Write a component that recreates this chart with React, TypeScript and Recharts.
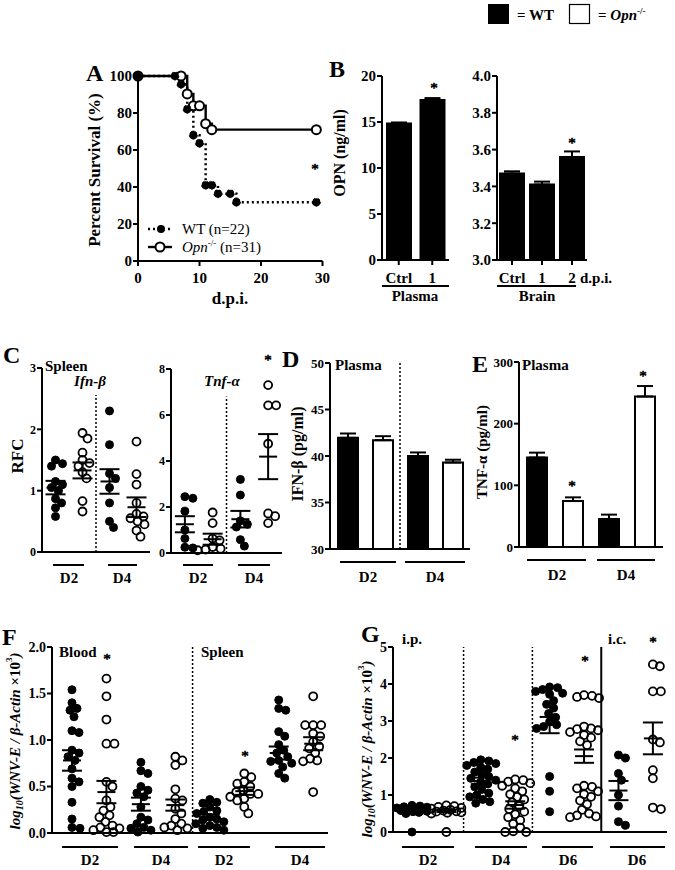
import React from "react"
import {
  LineChart,
  Line,
  BarChart,
  Bar,
  Cell,
  ErrorBar,
  ScatterChart,
  Scatter,
  XAxis,
  YAxis,
  ReferenceLine,
} from "recharts"

const FONT = "'Liberation Serif', 'Times New Roman', serif"
const STAR = "*"

// A: Kaplan-Meier survival (d.p.i. vs %)
const wtDays = [0, 6, 7, 8, 9, 10, 11, 12, 13, 15, 16, 29]
const wtSurv = [100, 100, 95.5, 82, 68, 63.6, 41, 41, 36.4, 36.4, 31.8, 31.8]
const opnDays = [0, 7, 8, 9, 10, 11, 12, 29]
const opnSurv = [100, 100, 90.3, 83.9, 83.9, 74.2, 71, 71]

// B: OPN (ng/ml)
const plasmaCats = ["Ctrl", "1"]
const plasmaOpn = [14.85, 17.4]
const plasmaErr = [0.1, 0.2]
const brainCats = ["Ctrl", "1", "2"]
const brainOpn = [3.47, 3.41, 3.56]
const brainErr = [0.012, 0.016, 0.03]

// C: spleen RFC, groups = D2 WT, D2 Opn, D4 WT, D4 Opn
const ifnSpleen = [
  [1.5, 1.44, 1.4, 1.15, 1.1, 1.05, 1.0, 0.87, 0.8, 0.72, 0.58],
  [1.94, 1.85, 1.62, 1.5, 1.45, 1.4, 1.3, 1.2, 0.83, 0.66],
  [2.3, 1.75, 1.28, 1.2, 1.05, 0.8, 0.5, 0.4],
  [1.8, 1.27, 1.1, 0.8, 0.62, 0.58, 0.55, 0.5, 0.45, 0.35, 0.25],
]
const ifnMean = [1.05, 1.33, 1.15, 0.73]
const ifnSem = [0.11, 0.13, 0.2, 0.16]
const tnfSpleen = [
  [2.45, 2.38, 1.82, 1.0, 0.63, 0.25, 0.22],
  [1.76, 1.3, 0.63, 0.55, 0.26, 0.19, 0.15, 0.12],
  [3.2, 2.52, 1.4, 1.25, 1.13, 0.58, 0.3],
  [7.3, 6.42, 6.42, 4.75, 1.72, 1.6, 1.3],
]
const tnfMean = [1.25, 0.6, 1.47, 4.19]
const tnfSem = [0.35, 0.24, 0.36, 0.98]

// D / E: plasma cytokines
const cytoCats = ["D2 WT", "D2 Opn", "D4 WT", "D4 Opn"]
const ifnPlasma = [41.95, 41.7, 40.0, 39.3]
const ifnPlasmaErr = [0.47, 0.43, 0.38, 0.3]
const tnfPlasma = [145, 74.5, 45.5, 244]
const tnfPlasmaErr = [8, 6, 7, 17]

// F: blood D2, D4, spleen D2, D4 (WT / Opn each)
const wnvF = [
  [1.54, 1.4, 1.34, 1.32, 1.25, 1.1, 1.08, 0.89, 0.86, 0.82, 0.78, 0.69, 0.59, 0.55, 0.5, 0.33, 0.15, 0.06, 0.05],
  [1.66, 1.47, 1.22, 0.96, 0.96, 0.55, 0.5, 0.35, 0.28, 0.24, 0.19, 0.17, 0.12, 0.08, 0.06, 0.05, 0.03, 0.01, 0.01],
  [0.76, 0.67, 0.64, 0.5, 0.46, 0.43, 0.39, 0.28, 0.17, 0.14, 0.1, 0.06, 0.05, 0.03, 0.01],
  [0.82, 0.78, 0.73, 0.47, 0.37, 0.35, 0.26, 0.21, 0.15, 0.1, 0.08, 0.06, 0.05, 0.03],
  [0.36, 0.33, 0.32, 0.28, 0.24, 0.23, 0.21, 0.17, 0.15, 0.14, 0.12, 0.1, 0.08, 0.06, 0.05, 0.03],
  [0.64, 0.6, 0.55, 0.53, 0.5, 0.46, 0.44, 0.42, 0.42, 0.39, 0.37, 0.35, 0.28, 0.21],
  [1.43, 1.34, 1.32, 1.09, 1.04, 0.95, 0.89, 0.86, 0.82, 0.78, 0.77, 0.75, 0.71, 0.64, 0.59],
  [1.47, 1.16, 1.16, 1.16, 1.07, 1.04, 0.98, 0.93, 0.91, 0.86, 0.8, 0.78, 0.77, 0.44],
]
const fMean = [0.78, 0.44, 0.31, 0.3, 0.17, 0.45, 0.86, 0.96]
const fSem = [0.11, 0.12, 0.07, 0.06, 0.03, 0.04, 0.07, 0.07]

// G: i.p. D2, D4, D6 and i.c. D6 (WT / Opn each)
const wnvG = [
  [0.72, 0.7, 0.68, 0.67, 0.65, 0.63, 0.62, 0.6, 0.58, 0.56, 0.55, 0.53, 0.5, 0.0],
  [0.72, 0.7, 0.68, 0.65, 0.63, 0.6, 0.58, 0.56, 0.55, 0.53, 0.52, 0.5, 0.0],
  [1.95, 1.92, 1.88, 1.85, 1.8, 1.75, 1.7, 1.62, 1.55, 1.5, 1.45, 1.4, 1.35, 1.3, 1.22, 1.15, 1.05, 1.0, 0.95, 0.88, 0.82, 0.78],
  [1.42, 1.4, 1.36, 1.32, 1.25, 1.18, 1.1, 1.02, 0.95, 0.88, 0.8, 0.7, 0.62, 0.55, 0.48, 0.4, 0.32, 0.22, 0.12, 0.02, 0.0, 0.0],
  [3.92, 3.9, 3.85, 3.8, 3.75, 3.72, 3.55, 3.45, 3.35, 3.2, 3.1, 2.98, 2.9, 2.85, 2.8, 1.5, 1.1, 0.55],
  [3.7, 3.68, 3.65, 3.62, 2.85, 2.8, 2.78, 2.75, 2.7, 2.62, 2.55, 2.45, 2.35, 1.25, 1.22, 1.18, 1.1, 1.02, 0.95, 0.85, 0.75, 0.6, 0.5, 0.45, 0.42, 0.4],
  [2.08, 2.0, 1.58, 1.4, 1.0, 0.7, 0.28, 0.18],
  [4.53, 4.48, 3.8, 3.8, 2.5, 2.42, 1.67, 1.45, 0.66, 0.62],
]
const gMean = [0.6, 0.57, 1.38, 0.73, 2.89, 2.05, 1.12, 2.53]
const gSem = [0.03, 0.03, 0.09, 0.1, 0.22, 0.18, 0.26, 0.43]

const axisLine = { stroke: "#000", strokeWidth: 2 }

function geo(L: number, T: number, R: number, B: number, yw: number, xh: number, pad = 10) {
  return {
    style: { position: "absolute" as const, left: L - yw, top: T - pad },
    width: R - L + yw + pad,
    height: B - T + pad + xh,
    margin: { top: pad, right: pad, left: 0, bottom: 0 },
  }
}

// simple beeswarm: horizontal pixel offsets so dots don't pile up
function swarm(vals: number[], pyu: number, pxu: number, r: number) {
  const placed: { dx: number; y: number }[] = []
  const out: number[] = vals.map(() => 0)
  const order = vals.map((_, i) => i).sort((a, b) => vals[b] - vals[a])
  const d = r * 1.8
  for (const i of order) {
    const y = vals[i] * pyu
    let best = 0
    let bestScore = -1
    for (let k = 0; k <= 30; k++) {
      const c = k === 0 ? 0 : (k % 2 ? 1 : -1) * Math.ceil(k / 2)
      const m = placed.reduce((acc, p) => Math.min(acc, Math.hypot(p.dx - c, p.y - y)), Infinity)
      if (m >= d) {
        best = c
        break
      }
      if (m > bestScore) {
        bestScore = m
        best = c
      }
    }
    placed.push({ dx: best, y })
    out[i] = best / pxu
  }
  return out
}

const dotShape = (open: boolean) => (p: any) => (
  <circle
    cx={p.cx}
    cy={p.cy}
    r={4}
    fill={open ? "none" : "#000"}
    stroke="#000"
    strokeWidth={open ? 1.8 : 1}
  />
)

const meanShape = (p: any) => (
  <line x1={p.cx - 9} x2={p.cx + 9} y1={p.cy} y2={p.cy} stroke="#000" strokeWidth={2} />
)

function ScatterPanel(props: any) {
  const { L, T, R, B, yw, yDom, yTicks, fmt, fs, groups, mean, sem, xDom, seps } = props
  const g = geo(L, T, R, B, yw, 10)
  const pyu = (B - T) / (yDom[1] - yDom[0])
  const pxu = (R - L) / (xDom[1] - xDom[0])
  const pts = groups.map((vals: number[], gi: number) => {
    const off = swarm(vals, pyu, pxu, 4)
    return vals.map((v, j) => ({ x: gi + off[j], y: v }))
  })
  const means = mean.map((m: number, gi: number) => ({ x: gi, y: m, e: sem[gi] }))
  return (
    <div style={g.style}>
      <ScatterChart width={g.width} height={g.height} margin={g.margin}>
        <XAxis
          type="number"
          dataKey="x"
          domain={xDom}
          ticks={groups.map((_: any, i: number) => i)}
          interval={0}
          tick={false}
          axisLine={axisLine}
          tickLine={axisLine}
          tickSize={5}
          height={10}
        />
        <YAxis
          type="number"
          dataKey="y"
          domain={yDom}
          ticks={yTicks}
          interval={0}
          tickFormatter={fmt}
          width={yw}
          axisLine={axisLine}
          tickLine={axisLine}
          tickSize={5}
          tickMargin={1}
          tick={{ fill: "#000", fontSize: fs, fontWeight: "bold", fontFamily: FONT }}
        />
        {seps.map((s: any, i: number) =>
          s.top !== undefined ? (
            <ReferenceLine
              key={i}
              segment={[
                { x: s.x, y: yDom[0] },
                { x: s.x, y: s.top },
              ]}
              stroke="#000"
              strokeWidth={1.5}
              strokeDasharray="2 2"
            />
          ) : (
            <ReferenceLine
              key={i}
              x={s.x}
              stroke="#000"
              strokeWidth={s.solid ? 2 : 1.5}
              strokeDasharray={s.solid ? undefined : "2 2"}
            />
          ),
        )}
        {pts.map((d: any[], gi: number) => (
          <Scatter key={gi} data={d} shape={dotShape(gi % 2 === 1)} isAnimationActive={false} />
        ))}
        <Scatter data={means} shape={meanShape} isAnimationActive={false}>
          <ErrorBar dataKey="e" direction="y" width={10} stroke="#000" strokeWidth={2} />
        </Scatter>
      </ScatterChart>
    </div>
  )
}

function BarPanel(props: any) {
  const { L, T, R, B, yw, xh, yDom, yTicks, fmt, fs, cats, vals, errs, barSize, labels, sep } = props
  const g = geo(L, T, R, B, yw, xh)
  const data = cats.map((k: string, i: number) => ({ k, v: vals[i], e: [0, errs[i]] }))
  return (
    <div style={g.style}>
      <BarChart data={data} width={g.width} height={g.height} margin={g.margin}>
        <XAxis
          dataKey="k"
          height={xh}
          interval={0}
          axisLine={axisLine}
          tickLine={axisLine}
          tickSize={5}
          tickMargin={7}
          tick={labels ? { fill: "#000", fontSize: 15, fontWeight: "bold", fontFamily: FONT } : false}
        />
        <YAxis
          type="number"
          domain={yDom}
          ticks={yTicks}
          interval={0}
          tickFormatter={fmt}
          width={yw}
          axisLine={axisLine}
          tickLine={axisLine}
          tickSize={5}
          tickMargin={1}
          tick={{ fill: "#000", fontSize: fs, fontWeight: "bold", fontFamily: FONT }}
        />
        {sep && (
          <ReferenceLine x={sep} position="end" stroke="#000" strokeWidth={1.5} strokeDasharray="2 2" />
        )}
        <Bar dataKey="v" barSize={barSize} stroke="#000" strokeWidth={2} isAnimationActive={false}>
          {data.map((_: any, i: number) => (
            <Cell key={i} fill={props.allBlack || i % 2 === 0 ? "#000" : "#fff"} />
          ))}
          <ErrorBar dataKey="e" direction="y" width={8} stroke="#000" strokeWidth={2} />
        </Bar>
      </BarChart>
    </div>
  )
}

function SurvivalPanel() {
  const g = geo(138, 76, 322.5, 261, 42, 30, 12)
  const wt = wtDays.map((x, i) => ({ x, y: wtSurv[i] }))
  const opn = opnDays.map((x, i) => ({ x, y: opnSurv[i] }))
  return (
    <div style={g.style}>
      <LineChart width={g.width} height={g.height} margin={g.margin}>
        <XAxis
          type="number"
          dataKey="x"
          domain={[0, 30]}
          ticks={[0, 10, 20, 30]}
          interval={0}
          height={30}
          axisLine={axisLine}
          tickLine={axisLine}
          tickSize={5}
          tickMargin={6}
          tick={{ fill: "#000", fontSize: 15, fontWeight: "bold", fontFamily: FONT }}
        />
        <YAxis
          type="number"
          domain={[0, 100]}
          ticks={[0, 20, 40, 60, 80, 100]}
          interval={0}
          width={42}
          axisLine={axisLine}
          tickLine={axisLine}
          tickSize={5}
          tickMargin={1}
          tick={{ fill: "#000", fontSize: 15, fontWeight: "bold", fontFamily: FONT }}
        />
        <Line
          data={opn}
          dataKey="y"
          type="stepAfter"
          stroke="#000"
          strokeWidth={2.4}
          dot={{ r: 4.5, fill: "#fff", stroke: "#000", strokeWidth: 2 }}
          isAnimationActive={false}
        />
        <Line
          data={wt}
          dataKey="y"
          type="stepAfter"
          stroke="#000"
          strokeWidth={2.5}
          strokeDasharray="2 3"
          dot={{ r: 4, fill: "#000", stroke: "#000", strokeWidth: 1 }}
          isAnimationActive={false}
        />
      </LineChart>
    </div>
  )
}

function T(props: any) {
  const { x, y, s = 15, w = "bold", a = "start", it = false, rot = false, sw, children } = props
  return (
    <text
      x={x}
      y={y}
      fontSize={s}
      fontWeight={w}
      fontStyle={it ? "italic" : "normal"}
      textAnchor={a}
      fontFamily={FONT}
      fill="#000"
      stroke={sw ? "#000" : undefined}
      strokeWidth={sw}
      dominantBaseline={rot ? "central" : undefined}
      transform={rot ? `rotate(-90 ${x} ${y})` : undefined}
    >
      {children}
    </text>
  )
}

// significance marker
function Star({ x, y }: any) {
  return (
    <T x={x} y={y} s={15} w="normal" a="middle" sw={0.6}>
      {STAR}
    </T>
  )
}

function U({ x1, x2, y }: any) {
  return <line x1={x1} x2={x2} y1={y} y2={y} stroke="#000" strokeWidth={2} />
}

function YLabelWnv({ x, y }: any) {
  return (
    <T x={x} y={y} s={15} rot a="middle" it>
      log<tspan fontSize={10} dy={4}>10</tspan>
      <tspan dy={-4}>(WNV-E / β-Actin </tspan>
      <tspan fontStyle="normal">×10</tspan>
      <tspan fontSize={9} dy={-6} fontStyle="normal">3</tspan>
      <tspan dy={6}>)</tspan>
    </T>
  )
}

function Overlay() {
  return (
    <svg width={675} height={870} style={{ position: "absolute", left: 0, top: 0, pointerEvents: "none" }}>
      {/* panel letters */}
      <T x={86} y={81} s={24}>A</T>
      <T x={329} y={77} s={24}>B</T>
      <T x={3} y={363} s={24}>C</T>
      <T x={282} y={367} s={24}>D</T>
      <T x={472} y={372} s={24}>E</T>
      <T x={2} y={645} s={24}>F</T>
      <T x={361} y={642} s={24}>G</T>

      {/* top legend */}
      <rect x={488} y={4} width={21} height={20} fill="#000" />
      <T x={517} y={20}>= WT</T>
      <rect x={569.5} y={4.5} width={20} height={19} fill="#fff" stroke="#000" strokeWidth={1.2} />
      <T x={598} y={20}>
        = <tspan fontStyle="italic">Opn</tspan>
        <tspan fontSize={9} dy={-6}>-/-</tspan>
      </T>

      {/* A */}
      <T x={94} y={170} s={17} rot a="middle">Percent Survival (%)</T>
      <T x={230} y={304} s={17} a="middle">d.p.i.</T>
      <line x1={148} x2={172} y1={229} y2={229} stroke="#000" strokeWidth={2.5} strokeDasharray="2 3" />
      <circle cx={161} cy={229} r={4} fill="#000" />
      <T x={182} y={234} w="normal">WT (n=22)</T>
      <line x1={148} x2={172} y1={247} y2={247} stroke="#000" strokeWidth={2.4} />
      <circle cx={160} cy={247} r={4.5} fill="#fff" stroke="#000" strokeWidth={2} />
      <T x={182} y={252} w="normal">
        <tspan fontStyle="italic">Opn</tspan>
        <tspan fontSize={9} dy={-6}>-/-</tspan>
        <tspan dy={6}> (n=31)</tspan>
      </T>
      <Star x={315} y={174} />

      {/* B */}
      <T x={339} y={153} s={16} rot a="middle">OPN (ng/ml)</T>
      <U x1={382} x2={449} y={286} />
      <T x={415} y={301} a="middle">Plasma</T>
      <U x1={497} x2={576} y={286} />
      <T x={537} y={301} a="middle">Brain</T>
      <T x={580} y={283}>d.p.i.</T>
      <Star x={434} y={93} />
      <Star x={572} y={148} />

      {/* C */}
      <T x={17} y={456} s={17} rot a="middle">RFC</T>
      <T x={45} y={371}>Spleen</T>
      <T x={90} y={386} it a="middle">Ifn-β</T>
      <T x={222} y={386} it a="middle">Tnf-α</T>
      <U x1={53} x2={84} y={565} />
      <U x1={108} x2={137} y={565} />
      <U x1={183} x2={213} y={565} />
      <U x1={238} x2={270} y={565} />
      <T x={69} y={583} a="middle">D2</T>
      <T x={122} y={583} a="middle">D4</T>
      <T x={198} y={583} a="middle">D2</T>
      <T x={254} y={583} a="middle">D4</T>
      <Star x={268} y={365} />

      {/* D */}
      <T x={297} y={454} s={16} rot a="middle">IFN-β (pg/ml)</T>
      <T x={335} y={370}>Plasma</T>
      <U x1={340} x2={396} y={562} />
      <U x1={405} x2={465} y={562} />
      <T x={368} y={582} a="middle">D2</T>
      <T x={435} y={582} a="middle">D4</T>

      {/* E */}
      <T x={482} y={452} s={15} rot a="middle">TNF-α (pg/ml)</T>
      <T x={522} y={370}>Plasma</T>
      <U x1={527} x2={586} y={560} />
      <U x1={597} x2={655} y={560} />
      <T x={557} y={580} a="middle">D2</T>
      <T x={626} y={580} a="middle">D4</T>
      <Star x={572} y={491} />
      <Star x={643} y={381} />

      {/* F */}
      <YLabelWnv x={15} y={741} />
      <T x={59} y={657}>Blood</T>
      <T x={201} y={657}>Spleen</T>
      <Star x={107} y={664} />
      <Star x={245} y={761} />
      <U x1={62} x2={118} y={847} />
      <U x1={134} x2={188} y={847} />
      <U x1={198} x2={250} y={847} />
      <U x1={275} x2={325} y={847} />
      <T x={90} y={865} a="middle">D2</T>
      <T x={161} y={865} a="middle">D4</T>
      <T x={224} y={865} a="middle">D2</T>
      <T x={300} y={865} a="middle">D4</T>

      {/* G */}
      <YLabelWnv x={367} y={749} />
      <T x={402} y={644}>i.p.</T>
      <T x={608} y={644}>i.c.</T>
      <Star x={653} y={647} />
      <Star x={585} y={666} />
      <Star x={515} y={745} />
      <U x1={402} x2={454} y={847} />
      <U x1={475} x2={527} y={847} />
      <U x1={542} x2={593} y={847} />
      <U x1={610} x2={665} y={847} />
      <T x={428} y={865} a="middle">D2</T>
      <T x={501} y={865} a="middle">D4</T>
      <T x={568} y={865} a="middle">D6</T>
      <T x={637} y={865} a="middle">D6</T>
    </svg>
  )
}

export default function App() {
  return (
    <div
      style={{
        position: "absolute",
        left: 0,
        top: 0,
        width: 675,
        height: 870,
        background: "#fff",
        overflow: "hidden",
        fontFamily: FONT,
      }}
    >
      <SurvivalPanel />
      <BarPanel
        L={382} T={76} R={449} B={260} yw={36} xh={30}
        yDom={[0, 20]} yTicks={[0, 5, 10, 15, 20]} fs={15}
        cats={plasmaCats} vals={plasmaOpn} errs={plasmaErr} barSize={24} labels allBlack
      />
      <BarPanel
        L={497} T={76} R={587} B={260} yw={36} xh={30}
        yDom={[3, 4]} yTicks={[3, 3.2, 3.4, 3.6, 3.8, 4]} fmt={(v: number) => v.toFixed(1)} fs={15}
        cats={brainCats} vals={brainOpn} errs={brainErr} barSize={24} labels allBlack
      />
      <ScatterPanel
        L={42} T={368} R={150} B={552} yw={24}
        yDom={[0, 3]} yTicks={[0, 1, 2, 3]} fs={12} xDom={[-0.5, 3.5]}
        groups={ifnSpleen} mean={ifnMean} sem={ifnSem} seps={[{ x: 1.5, top: 2.56 }]}
      />
      <ScatterPanel
        L={171} T={369} R={282} B={553} yw={22}
        yDom={[0, 8]} yTicks={[0, 2, 4, 6, 8]} fs={12} xDom={[-0.5, 3.5]}
        groups={tnfSpleen} mean={tnfMean} sem={tnfSem} seps={[{ x: 1.5, top: 6.8 }]}
      />
      <BarPanel
        L={330} T={363} R={470} B={549} yw={28} xh={10}
        yDom={[30, 50]} yTicks={[30, 35, 40, 45, 50]} fs={13}
        cats={cytoCats} vals={ifnPlasma} errs={ifnPlasmaErr} barSize={20} sep="D2 Opn"
      />
      <BarPanel
        L={519} T={362} R={663} B={547} yw={34} xh={10}
        yDom={[0, 300]} yTicks={[0, 100, 200, 300]} fs={13}
        cats={cytoCats} vals={tnfPlasma} errs={tnfPlasmaErr} barSize={20}
      />
      <ScatterPanel
        L={52} T={647} R={328} B={833} yw={34}
        yDom={[0, 2]} yTicks={[0, 0.5, 1, 1.5, 2]} fmt={(v: number) => v.toFixed(1)} fs={14}
        xDom={[-0.58, 7.43]} groups={wnvF} mean={fMean} sem={fSem} seps={[{ x: 3.5 }]}
      />
      <ScatterPanel
        L={393} T={647} R={667} B={832} yw={22}
        yDom={[0, 5]} yTicks={[0, 1, 2, 3, 4, 5]} fs={14}
        xDom={[-0.55, 7.41]} groups={wnvG} mean={gMean} sem={gSem}
        seps={[{ x: 1.5 }, { x: 3.5 }, { x: 5.5, solid: true }]}
      />
      <Overlay />
    </div>
  )
}
